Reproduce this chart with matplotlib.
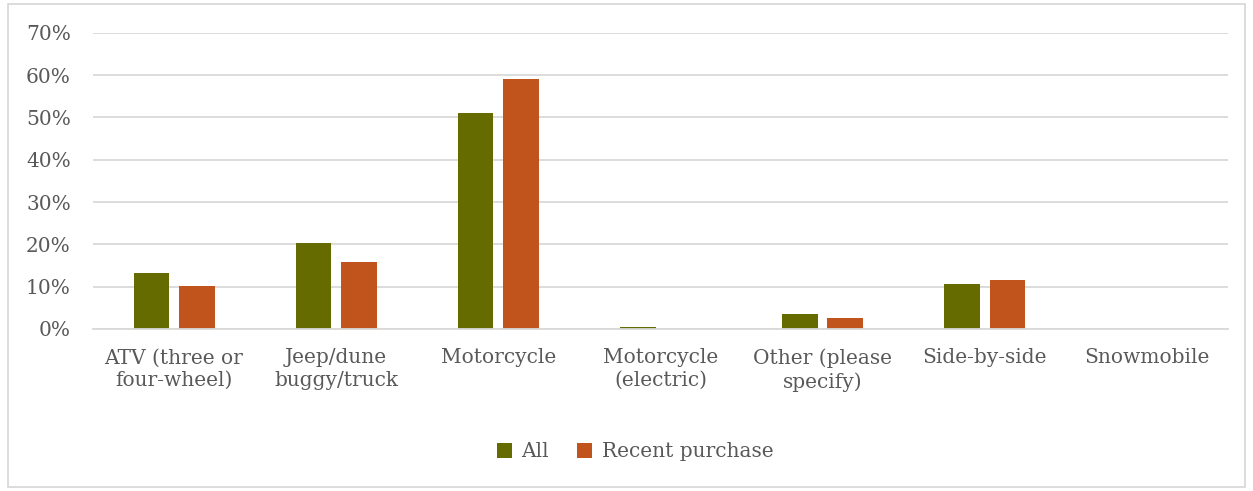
import matplotlib
matplotlib.use("Agg")
import matplotlib.pyplot as plt
import numpy as np
from matplotlib.patches import Rectangle
from matplotlib.ticker import FuncFormatter

kategoriak = ["ATV (three or\nfour-wheel)", "Jeep/dune\nbuggy/truck", "Motorcycle",
              "Motorcycle\n(electric)", "Other (please\nspecify)", "Side-by-side",
              "Snowmobile"]
osszes = [0.132, 0.203, 0.511, 0.005, 0.035, 0.106, 0.001]
friss = [0.102, 0.158, 0.592, 0.001, 0.027, 0.116, 0.0]
yticks = [0, 0.1, 0.2, 0.3, 0.4, 0.5, 0.6, 0.7]

ZOLD = "#666b00"
NARANCS = "#c0541c"
TINTA = "#595959"
RACS = "#d9d9d9"

plt.rcParams["font.family"] = ["DejaVu Serif"]

fig = plt.figure(figsize=(12.53, 4.91), dpi=100)
ax = fig.add_axes([0.0742, 0.330, 0.9058, 0.603])

x = np.arange(len(kategoriak))
w = 0.22
ax.bar(x - 0.14, osszes, width=w, color=ZOLD, label="All")
ax.bar(x + 0.14, friss, width=w, color=NARANCS, label="Recent purchase")

ax.set_xlim(-0.5, len(kategoriak) - 0.5)
ax.set_ylim(0, 0.7)
ax.set_yticks(yticks)
ax.yaxis.set_major_formatter(FuncFormatter(lambda v, _: f"{v*100:.0f}%"))
ax.yaxis.grid(True, color=RACS, linewidth=1.3)
ax.set_axisbelow(True)
for s in ("top", "right", "left"):
    ax.spines[s].set_visible(False)
ax.spines["bottom"].set_color(RACS)
ax.spines["bottom"].set_linewidth(1.3)
ax.set_xticks(x)
ax.set_xticklabels(kategoriak, fontsize=14.5, color=TINTA, linespacing=1.25)
ax.tick_params(axis="both", length=0, colors=TINTA, labelsize=14.5)
ax.tick_params(axis="x", pad=14)
ax.tick_params(axis="y", pad=16)

fig.legend(loc="center", bbox_to_anchor=(0.507, 0.08), ncol=2, frameon=False,
           fontsize=14.5, labelcolor=TINTA, handlelength=0.75, handleheight=0.75,
           handletextpad=0.45, columnspacing=1.4)

fig.patches.append(Rectangle((0.006, 0.008), 0.988, 0.984, transform=fig.transFigure,
                             fill=False, edgecolor=RACS, linewidth=1.3))

fig.savefig("out.png", dpi=100, facecolor="white")
